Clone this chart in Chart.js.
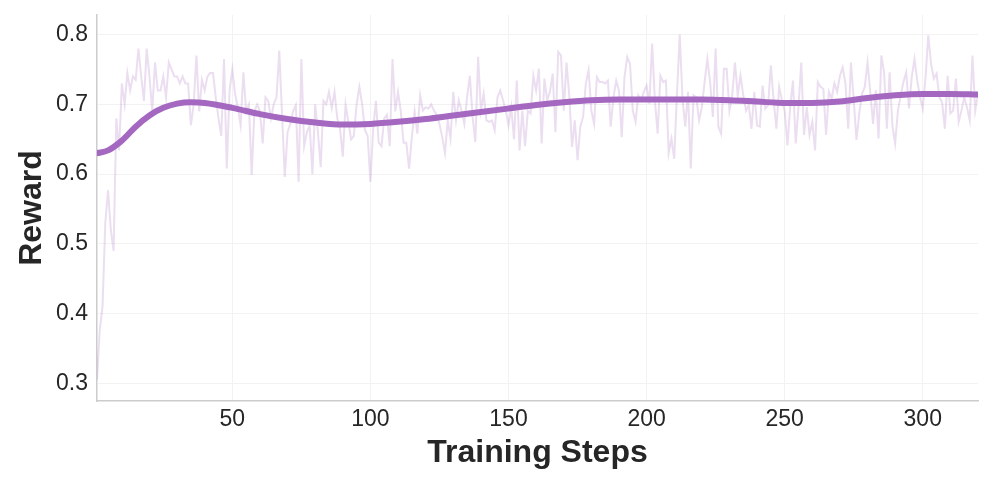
<!DOCTYPE html>
<html>
<head>
<meta charset="utf-8">
<script src="https://cdn.jsdelivr.net/npm/chart.js"></script>
<style>
  html, body { margin: 0; padding: 0; background: #ffffff; }
  #wrap { width: 996px; height: 488px; position: relative; }
</style>
</head>
<body>
<div id="wrap"><canvas id="rewardChart"></canvas></div>
<script>
// raw reward per training step (steps 1..320)
const rawReward = [
  0.306, 0.377, 0.410, 0.530, 0.577, 0.520, 0.490, 0.680, 0.634, 0.730,
  0.700, 0.745, 0.720, 0.740, 0.735, 0.780, 0.740, 0.705, 0.780, 0.740,
  0.690, 0.760, 0.720, 0.720, 0.740, 0.710, 0.760, 0.750, 0.740, 0.740,
  0.730, 0.740, 0.730, 0.730, 0.670, 0.700, 0.770, 0.690, 0.735, 0.720,
  0.740, 0.745, 0.745, 0.710, 0.680, 0.655, 0.765, 0.608, 0.720, 0.750,
  0.715, 0.695, 0.670, 0.746, 0.690, 0.700, 0.599, 0.690, 0.700, 0.690,
  0.644, 0.710, 0.705, 0.680, 0.700, 0.710, 0.777, 0.685, 0.596, 0.660,
  0.672, 0.690, 0.699, 0.589, 0.765, 0.640, 0.660, 0.670, 0.600, 0.700,
  0.660, 0.610, 0.705, 0.700, 0.718, 0.695, 0.718, 0.680, 0.665, 0.625,
  0.700, 0.675, 0.650, 0.655, 0.700, 0.725, 0.700, 0.663, 0.655, 0.589,
  0.665, 0.705, 0.645, 0.640, 0.680, 0.685, 0.640, 0.765, 0.690, 0.718,
  0.690, 0.645, 0.645, 0.608, 0.653, 0.690, 0.658, 0.713, 0.691, 0.696,
  0.694, 0.700, 0.691, 0.685, 0.672, 0.653, 0.630, 0.677, 0.651, 0.718,
  0.677, 0.706, 0.691, 0.672, 0.710, 0.741, 0.682, 0.646, 0.768, 0.691,
  0.715, 0.677, 0.675, 0.677, 0.663, 0.710, 0.720, 0.706, 0.691, 0.670,
  0.696, 0.650, 0.734, 0.634, 0.691, 0.640, 0.691, 0.687, 0.741, 0.720,
  0.751, 0.644, 0.737, 0.706, 0.718, 0.744, 0.660, 0.775, 0.770, 0.691,
  0.760, 0.713, 0.639, 0.677, 0.620, 0.668, 0.682, 0.730, 0.749, 0.691,
  0.672, 0.739, 0.732, 0.732, 0.730, 0.734, 0.668, 0.710, 0.734, 0.720,
  0.653, 0.739, 0.768, 0.758, 0.691, 0.675, 0.713, 0.706, 0.718, 0.727,
  0.701, 0.787, 0.706, 0.658, 0.741, 0.732, 0.734, 0.630, 0.651, 0.622,
  0.715, 0.800, 0.708, 0.668, 0.718, 0.608, 0.713, 0.710, 0.677, 0.696,
  0.732, 0.765, 0.732, 0.682, 0.780, 0.668, 0.658, 0.751, 0.751, 0.691,
  0.713, 0.760, 0.713, 0.741, 0.713, 0.691, 0.699, 0.665, 0.718, 0.670,
  0.668, 0.727, 0.694, 0.699, 0.756, 0.706, 0.665, 0.725, 0.706, 0.691,
  0.641, 0.696, 0.734, 0.644, 0.696, 0.760, 0.656, 0.696, 0.656, 0.675,
  0.634, 0.732, 0.725, 0.722, 0.656, 0.718, 0.708, 0.730, 0.718, 0.741,
  0.753, 0.730, 0.665, 0.760, 0.706, 0.649, 0.687, 0.715, 0.725, 0.760,
  0.718, 0.672, 0.720, 0.651, 0.770, 0.746, 0.665, 0.746, 0.670, 0.644,
  0.691, 0.713, 0.732, 0.746, 0.694, 0.739, 0.765, 0.734, 0.710, 0.694,
  0.739, 0.799, 0.758, 0.737, 0.744, 0.710, 0.703, 0.665, 0.741, 0.687,
  0.691, 0.737, 0.675, 0.691, 0.710, 0.696, 0.677, 0.770, 0.691, 0.715
];
const steps = rawReward.map((_, i) => i + 1);

const smoothSteps = [1, 5, 10, 15, 20, 25, 30, 35, 40, 50, 60, 70, 80, 90, 100, 110, 120, 130, 140, 150,
  160, 170, 180, 190, 200, 210, 220, 230, 240, 250, 260, 270, 280, 290, 300, 310, 320];
const smoothReward = [0.630, 0.634, 0.648, 0.668, 0.684, 0.695, 0.701, 0.703, 0.702, 0.695, 0.686, 0.679,
  0.674, 0.671, 0.672, 0.675, 0.679, 0.684, 0.689, 0.694, 0.699, 0.703, 0.706, 0.707, 0.707, 0.707,
  0.707, 0.706, 0.704, 0.702, 0.702, 0.704, 0.709, 0.713, 0.715, 0.715, 0.714];

const xTicks = [50, 100, 150, 200, 250, 300];
const yTicks = [0.3, 0.4, 0.5, 0.6, 0.7, 0.8];

const textColor = '#262626';
const gridColor = '#f2f2f2';
const axisColor = '#cccccc';

function createRewardChart(canvas) {
  return new Chart(canvas, {
    type: 'line',
    data: {
      datasets: [{
        label: 'Smoothed',
        data: smoothSteps.map((s, i) => ({ x: s, y: smoothReward[i] })),
        borderColor: '#a468c0',
        borderWidth: 6,
        pointRadius: 0,
        cubicInterpolationMode: 'monotone',
        borderCapStyle: 'round',
        order: 0
      }, {
        label: 'Reward',
        data: steps.map((s, i) => ({ x: s, y: rawReward[i] })),
        borderColor: 'rgba(155, 89, 182, 0.2)',
        borderWidth: 2,
        pointRadius: 0,
        tension: 0,
        order: 1
      }]
    },
    options: {
      responsive: true,
      maintainAspectRatio: false,
      animation: false,
      layout: {
        padding: { top: 15, right: 18, left: 0, bottom: 0 }
      },
      plugins: {
        legend: { display: false },
        tooltip: { enabled: false }
      },
      scales: {
        x: {
          type: 'linear',
          min: 1,
          max: 320,
          afterBuildTicks: (scale) => { scale.ticks = xTicks.map(v => ({ value: v })); },
          afterFit: (scale) => {
            scale.height = 87;
            scale.paddingLeft = 0;
            scale.paddingRight = 0;
          },
          ticks: {
            color: textColor,
            padding: 5,
            font: { family: 'Liberation Sans', size: 23 }
          },
          grid: { color: gridColor, lineWidth: 1, drawTicks: false },
          border: { color: axisColor, width: 1.5 },
          title: {
            display: true,
            text: 'Training Steps',
            color: textColor,
            padding: { top: 0, bottom: 16 },
            font: { family: 'Liberation Sans', size: 32, weight: 'bold' }
          }
        },
        y: {
          min: 0.275,
          max: 0.828,
          afterBuildTicks: (scale) => { scale.ticks = yTicks.map(v => ({ value: v })); },
          afterFit: (scale) => {
            scale.width = 97;
            scale.paddingTop = 0;
            scale.paddingBottom = 0;
          },
          ticks: {
            color: textColor,
            padding: 9,
            font: { family: 'Liberation Sans', size: 23 },
            callback: (v) => v.toFixed(1)
          },
          grid: { color: gridColor, lineWidth: 1, drawTicks: false },
          border: { color: axisColor, width: 1.5 },
          title: {
            display: true,
            text: 'Reward',
            color: textColor,
            padding: { top: 13, bottom: 0 },
            font: { family: 'Liberation Sans', size: 32, weight: 'bold' }
          }
        }
      }
    }
  });
}

createRewardChart(document.getElementById('rewardChart'));
</script>
</body>
</html>
